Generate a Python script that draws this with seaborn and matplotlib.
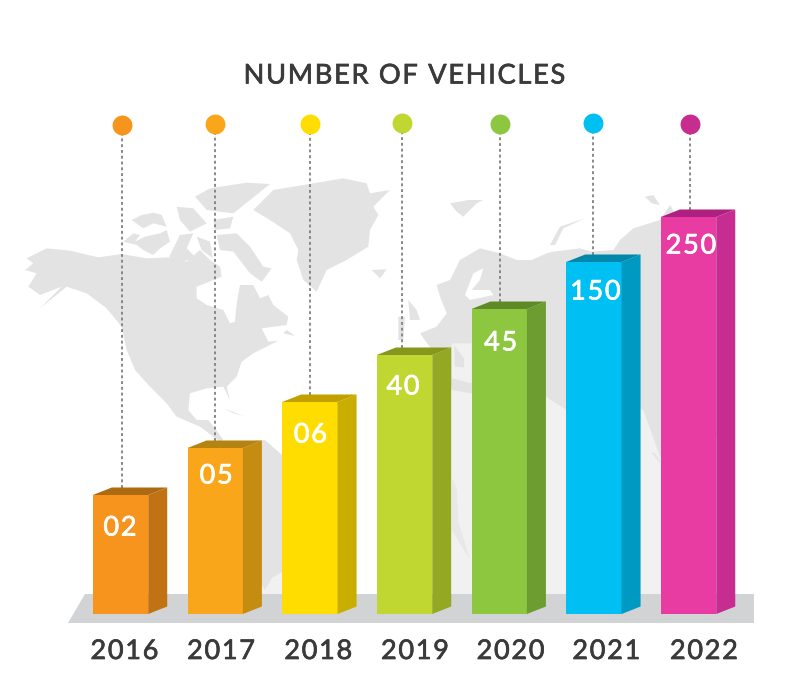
import matplotlib
matplotlib.use("Agg")
import matplotlib.pyplot as plt
import matplotlib.patheffects as pe
from matplotlib.patches import Polygon
import numpy as np
import pandas as pd
import seaborn as sns

# ---- data ----
years = ["2016", "2017", "2018", "2019", "2020", "2021", "2022"]
value_labels = ["02", "05", "06", "40", "45", "150", "250"]
bar_heights = [119, 166, 212, 259, 305, 352, 397]   # drawn height (the bars are illustrative)
front_colors = ["#F7941D", "#FAA61A", "#FFDD00", "#BFD730", "#8DC63F", "#00BFF3", "#E83CA3"]
side_colors = ["#C17313", "#C48C10", "#C9AE00", "#95A823", "#6D9C31", "#0099C1", "#C72C91"]
top_colors = ["#AD6A10", "#B5830F", "#C2A000", "#87971C", "#5E8B27", "#0087A9", "#AD1F80"]
dot_colors = ["#F7941D", "#FAA61A", "#FFDD00", "#BFD730", "#8DC63F", "#00BFF3", "#C72C8F"]

# ---- small layout nudges, px ----
dot_nudge = [1.5, 0, 0.5, -2.5, 0.5, -0.5, 1.5]
dot_y = [125, 124, 124, 123, 124, 123, 124]
label_nudge_x = [-0.5, 1, 0.5, -1.5, 1.5, 1.5, 2.5]
label_drop = [33, 28, 33, 32, 34, 30, 29]
year_nudge = [4, 6, 8.5, 10.5, 11.5, 12.5, 15.5]
DX, DY = 19, 7.5
FONT = ["Lato", "DejaVu Sans"]
HAIR = "\u200a"

sns.set_theme(style="white")
plt.rcParams["font.family"] = FONT

fig = plt.figure(figsize=(8, 7), dpi=100, facecolor="white")

# ---- background illustration in pixel coordinates ----
bg = fig.add_axes([0, 0, 1, 1], zorder=0)
bg.set_xlim(0, 800)
bg.set_ylim(700, 0)
bg.axis("off")

GRAY, LIGHT = "#E3E3E4", "#F1F1F2"


def z1(pts):
    return [(20 + x / 3, 170 + y / 3) for x, y in pts]


def z2(pts):
    return [(400 + x / 3, 170 + y / 3) for x, y in pts]


def shape(pts, color=GRAY, z=1):
    bg.add_patch(Polygon(pts, closed=True, facecolor=color, edgecolor="none", zorder=z))


shape([(452, 380), (560, 400), (662, 400), (662, 594), (452, 594)], LIGHT, 1)
shape([(262, 570), (282, 570), (282, 594), (262, 594)], LIGHT, 1)
shape([(240, 442), (265, 440), (282, 455), (282, 572), (272, 578), (265, 590), (245, 560)], GRAY, 2)

# North America
shape(z1([(20, 265), (80, 235), (150, 242), (235, 262), (305, 252), (380, 265), (450, 262), (500, 275),
          (540, 240), (570, 270), (600, 290), (605, 320), (530, 350), (530, 385), (560, 405), (610, 420),
          (630, 460), (645, 455), (650, 400), (660, 345), (700, 345), (720, 385), (745, 375), (760, 405),
          (805, 440), (800, 465), (725, 475), (745, 515), (775, 512), (700, 550), (665, 575), (650, 620),
          (620, 650), (630, 690), (610, 650), (560, 655), (510, 670), (505, 720), (530, 750), (565, 750),
          (585, 775), (610, 810), (600, 815), (540, 770), (470, 740), (440, 700), (390, 650), (345, 600),
          (320, 540), (305, 470), (260, 415), (200, 370), (140, 350), (60, 415), (125, 350), (60, 375),
          (25, 350), (50, 310), (15, 300), (40, 280)]))
# Arctic islands
shape(z1([(310, 215), (340, 190), (360, 195), (345, 215), (375, 200), (420, 190), (440, 180), (450, 215),
          (420, 235), (400, 255), (370, 240), (350, 225)]))
shape(z1([(335, 150), (365, 135), (400, 128), (425, 135), (440, 170), (400, 160), (370, 175)]))
shape(z1([(480, 195), (520, 190), (500, 235), (530, 265), (470, 278), (448, 260), (460, 235)]))
shape(z1([(530, 200), (570, 215), (578, 265), (545, 240)]))
shape(z1([(470, 110), (520, 115), (560, 160), (510, 185), (480, 150)]))
shape(z1([(525, 80), (570, 55), (680, 38), (750, 42), (690, 90), (640, 130), (560, 120)]))
shape(z1([(590, 195), (650, 190), (690, 230), (730, 290), (755, 295), (725, 335), (690, 310), (640, 245), (600, 240)]))
shape(z1([(580, 150), (640, 140), (630, 175), (585, 180)]))
# Greenland, Iceland, Newfoundland
shape(z1([(700, 120), (760, 60), (880, 40), (970, 25), (1040, 40), (1050, 70), (1110, 60), (1060, 110),
          (1075, 135), (1050, 180), (1045, 230), (980, 270), (920, 300), (890, 365), (850, 330), (830, 270),
          (835, 240), (810, 190), (750, 150)]))
shape(z1([(1055, 300), (1100, 298), (1080, 325)]))
shape(z1([(790, 490), (825, 498), (800, 480)]))
# Caribbean
shape(z1([(610, 715), (670, 738), (640, 730)]))

# Eurasia
shape(z2([(110, 345), (150, 330), (180, 270), (240, 235), (300, 250), (350, 270), (395, 270), (440, 250),
          (460, 245), (540, 235), (575, 245), (640, 240), (660, 210), (700, 175), (780, 150), (810, 105),
          (830, 140), (950, 150), (950, 800), (780, 860), (730, 720), (660, 700), (500, 720), (437, 680),
          (300, 660), (215, 670), (155, 660), (150, 620), (110, 560), (60, 490), (110, 470), (140, 430),
          (120, 380)]), GRAY, 2)
shape(z2([(195, 375), (220, 310), (250, 295), (240, 330), (215, 360), (270, 360), (280, 375), (210, 390)]),
      "white", 3)
shape(z2([(155, 520), (215, 520), (215, 640), (155, 625)]), LIGHT, 3)
shape(z2([(162, 525), (192, 565), (192, 592), (165, 590)]), GRAY, 4)
shape(z2([(150, 100), (205, 90), (250, 90), (230, 100), (190, 140), (170, 125)]))
shape(z2([(450, 225), (480, 170), (555, 145), (490, 175), (465, 225)]))
shape(z2([(735, 80), (760, 75), (780, 105), (755, 100)]))
shape(z2([(25, 390), (50, 420), (60, 450), (30, 450)]))
shape(z2([(-5, 440), (15, 440), (10, 510), (-5, 510)]))
# Africa fringe and Madagascar
shape([(452, 478), (457, 490), (458, 520), (470, 560), (452, 530)], "#E8E8E9", 3)
shape([(651, 452), (655, 453), (660, 460), (660, 464)], "#E6E6E7", 3)

# floor
shape([(85, 594), (754, 594), (754, 623), (68, 623)], "#D1D3D4", 5)

# ---- bars ----
ax = fig.add_axes([73.2 / 800, (700 - 614) / 700, 662.7 / 800, 514 / 700], zorder=2)
ax.patch.set_alpha(0)
df = pd.DataFrame({"year": years, "height": bar_heights})
sns.barplot(data=df, x="year", y="height", hue="year", palette=front_colors, legend=False,
            width=0.585, saturation=1, dodge=False, ax=ax, zorder=4, linewidth=0)
ax.set_xlim(-0.5, 6.5)
ax.set_ylim(0, 514)
sns.despine(ax=ax, left=True, bottom=True)
ax.set_xlabel("")
ax.set_ylabel("")
ax.set_yticks([])

white_stroke = [pe.withStroke(linewidth=0.5, foreground="white")]
dark_stroke = [pe.withStroke(linewidth=0.5, foreground="#3A3A3A")]

for i, bar in enumerate(ax.patches[:len(years)]):
    # data units: one x unit is 94.67 px, one y unit is 1 px
    x0, w, h = bar.get_x(), bar.get_width(), bar.get_height()
    x1 = x0 + w
    dx = DX / 94.67
    ax.add_patch(Polygon([(x1, 0), (x1 + dx, DY), (x1 + dx, h + DY), (x1, h)],
                         facecolor=side_colors[i], edgecolor="none", zorder=4))
    ax.add_patch(Polygon([(x0, h), (x0 + dx, h + DY), (x1 + dx, h + DY), (x1, h)],
                         facecolor=top_colors[i], edgecolor="none", zorder=4))
    cx = x0 + w / 2
    dot_x = cx + dot_nudge[i] / 94.67
    yd = 614 - dot_y[i]
    ax.plot([dot_x, dot_x], [h + DY, yd], color="#7F7F7F", lw=1.3, dashes=(1.6, 1.6), zorder=2)
    ax.scatter([dot_x], [yd], s=205, color=dot_colors[i], linewidth=0, zorder=5, clip_on=False)
    ax.text(cx + label_nudge_x[i] / 94.67, h - label_drop[i], HAIR.join(value_labels[i]), color="white",
            fontsize=19.5, ha="center", va="center", zorder=6, family=FONT, path_effects=white_stroke)

positions = [i + year_nudge[i] / 94.67 for i in range(len(years))]
ax.set_xticks(positions, labels=[HAIR.join(y) for y in years])
ax.tick_params(axis="x", length=0, pad=18, labelsize=19.5, labelcolor="#3A3A3A")
for t in ax.get_xticklabels():
    t.set_path_effects(dark_stroke)

fig.text(405 / 800, 1 - 76 / 700, HAIR.join("NUMBER OF VEHICLES"), ha="center", va="center",
         fontsize=19.6, color="#3A3A3A", family=FONT, path_effects=dark_stroke)

fig.savefig("out.png", dpi=100, facecolor="white")
